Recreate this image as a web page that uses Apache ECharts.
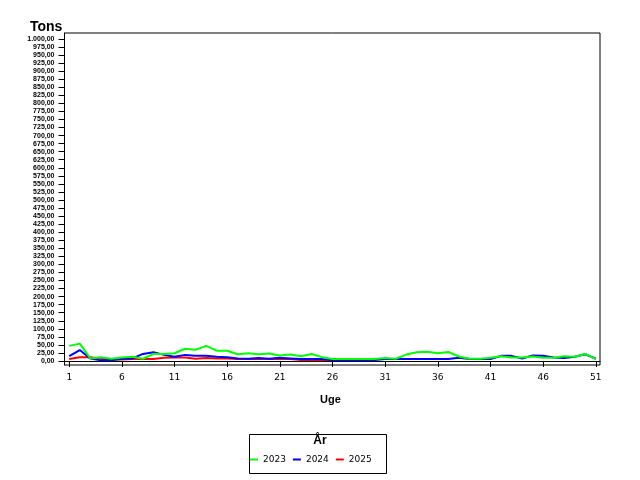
<!DOCTYPE html>
<html>
<head>
<meta charset="utf-8">
<script src="https://cdn.jsdelivr.net/npm/echarts@6/dist/echarts.min.js"></script>
<style>html,body{margin:0;padding:0;background:#fff}#main{width:640px;height:480px}</style>
</head>
<body>
<div id="main"></div>
<script>
// uge numbers and tons per uge
var weeks = [1,2,3,4,5,6,7,8,9,10,11,12,13,14,15,16,17,18,19,20,21,22,23,24,25,26,
  27,28,29,30,31,32,33,34,35,36,37,38,39,40,41,42,43,44,45,46,47,48,49,50,51];
var tons2023 = [47,54,8,12,7,11,13,7,22,22, 24,38,35,47,32,32,21,24,21,23,
  17,20,15,22,12,6,6,6,6,6, 9,7,20,27,29,24,28,14,7,7, 10,15,11,11,14,10,10,15,13,22,6];
var tons2024 = [15,34,8,2,2,7,8,22,27,19, 13,19,16,16,13,12,8,7,9,7,
  10,8,6,6,6,3,2,2,2,3, 6,6,6,6,6,6,6,10,6,6, 6,16,16,8,17,16,11,9,13,21,7];
var tons2025 = [6,12,12,7,5,5,6,6,6,10, 11,11,7,9,8,8,6,6,6,6, 6,6,3,3,3,3];
var years = ["2023", "2024", "2025"];
var xTicks = [1,6,11,16,21,26,31,36,41,46,51];
var yTicks = [0,25,50,75,100,125,150,175,200,225,250,275,300,325,350,375,400,425,450,475,
  500,525,550,575,600,625,650,675,700,725,750,775,800,825,850,875,900,925,950,975,1000];

function pairs(vals) {
  return vals.map(function(v, i) { return [weeks[i], v]; });
}
// 1000 -> "1.000,00"
function fmtTons(v) {
  var s = v.toFixed(2).split(".");
  return s[0].replace(/\B(?=(\d{3})+(?!\d))/g, ".") + "," + s[1];
}

var myChart = echarts.init(document.getElementById("main"));
option = {
  animation: false,
  backgroundColor: "#fff",
  grid: {
    left: 64.5, top: 33, right: 40, bottom: 115,
    show: true, borderColor: "#000", borderWidth: 1
  },
  xAxis: {
    type: "value", min: 0.55, max: 51.4,
    axisLine: { show: true, lineStyle: { color: "#000", width: 1 } },
    axisTick: { show: true, customValues: xTicks, length: 6, lineStyle: { color: "#000" } },
    axisLabel: { customValues: xTicks, color: "#000", fontFamily: "DejaVu Sans", fontSize: 9, margin: 8 },
    splitLine: { show: false }
  },
  yAxis: {
    type: "value", min: -12.4, max: 1018.6,
    axisLine: { show: true, lineStyle: { color: "#000", width: 1 } },
    axisTick: { show: true, customValues: yTicks, length: 6, lineStyle: { color: "#000" } },
    axisLabel: {
      customValues: yTicks, color: "#000", fontFamily: "Liberation Sans",
      fontWeight: "bold", fontSize: 7, margin: 10, formatter: fmtTons
    },
    splitLine: { show: false }
  },
  legend: {
    data: years,
    left: 250, top: 455, padding: 0,
    icon: "rect", itemWidth: 8, itemHeight: 2, itemGap: 7,
    textStyle: { color: "#000", fontFamily: "DejaVu Sans", fontSize: 9 }
  },
  graphic: [
    { type: "text", left: 30, top: 20, style: { text: "Tons", fill: "#000", font: "bold 14px 'Liberation Sans'" } },
    { type: "text", left: 320, top: 394, style: { text: "Uge", fill: "#000", font: "bold 11px 'Liberation Sans'" } },
    { type: "rect", shape: { x: 249.5, y: 434.5, width: 137, height: 39 },
      style: { fill: "none", stroke: "#000", lineWidth: 1 } },
    { type: "text", x: 320, y: 441, style: { text: "År", fill: "#000", font: "bold 12px 'Liberation Sans'",
      textAlign: "center", textVerticalAlign: "middle" } }
  ],
  series: [
    { name: years[0], type: "line", data: pairs(tons2023), showSymbol: false, z: 4,
      itemStyle: { color: "#00ff00" }, lineStyle: { color: "#00ff00", width: 2 } },
    { name: years[1], type: "line", data: pairs(tons2024), showSymbol: false, z: 3,
      itemStyle: { color: "#0000ff" }, lineStyle: { color: "#0000ff", width: 2 } },
    { name: years[2], type: "line", data: pairs(tons2025), showSymbol: false, z: 2,
      itemStyle: { color: "#ff0000" }, lineStyle: { color: "#ff0000", width: 2 } }
  ]
};
myChart.setOption(option);
</script>
</body>
</html>
